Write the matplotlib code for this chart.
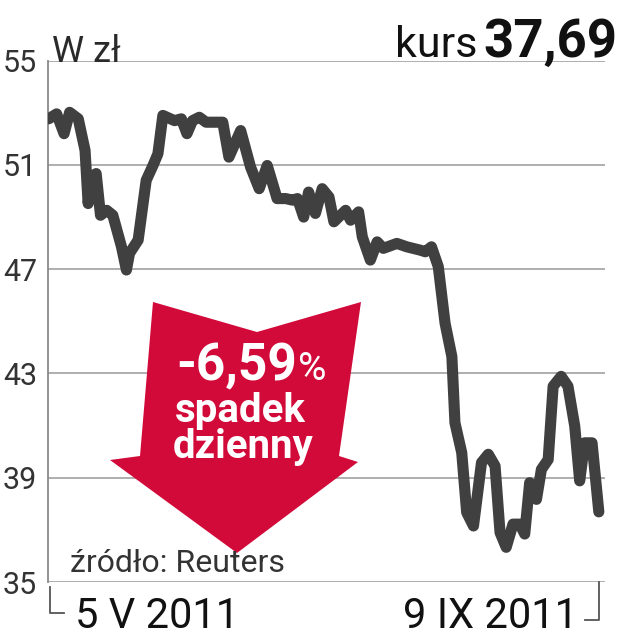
import matplotlib
matplotlib.use("Agg")
import matplotlib.pyplot as plt
from matplotlib.patches import Polygon
from matplotlib.lines import Line2D
from matplotlib import font_manager

# ---------------- data ----------------
days = [0, 1.3, 2.5, 3.4, 4.8, 5.9, 6.4, 6.9, 7.7, 8.4, 9.4, 10.4, 11.8, 12.6, 13.1,
        14.5, 15.8, 16.9, 17.7, 18.5, 20.4, 21.5, 22.4, 23.3, 24.4, 25.5, 28.2, 29.2,
        31.1, 32.7, 34.1, 35.4, 37.0, 38.4, 39.5, 40.3, 41.3, 42.1, 43.2, 44.3, 45.4,
        46.2, 48.1, 48.9, 50.2, 50.8, 52.1, 53.2, 54.2, 56.4, 58.0, 60.2, 61.0, 62.0,
        63.1, 64.2, 65.3, 65.8, 66.9, 67.7, 68.8, 70.1, 71.2, 72.3, 73.1, 74.1, 75.2,
        76.3, 77.1, 77.9, 79.0, 79.8, 80.9, 81.7, 83.0, 84.1, 85.2, 86.0, 86.8, 88.0, 89.1]
prices = [52.77, 52.96, 52.2, 53.02, 52.77, 51.56, 49.52, 50.54, 50.67, 49.07, 49.26, 49.07,
          47.86, 46.97, 47.61, 48.12, 50.41, 50.98, 51.43, 52.9, 52.7, 52.77, 52.2, 52.7,
          52.83, 52.64, 52.64, 51.3, 52.32, 50.92, 50.09, 50.98, 49.71, 49.71, 49.65, 49.71,
          49.0, 49.96, 49.14, 50.09, 49.77, 48.82, 49.26, 48.88, 49.2, 48.24, 47.35, 48.05,
          47.8, 47.99, 47.86, 47.73, 47.67, 47.86, 47.1, 44.93, 43.65, 41.11, 39.96, 37.67,
          37.15, 39.58, 39.9, 39.45, 36.9, 36.33, 37.22, 37.22, 36.84, 38.81, 38.17, 39.32,
          39.7, 42.51, 42.89, 42.51, 40.98, 38.88, 40.34, 40.34, 37.69]
yticks = [35, 39, 43, 47, 51, 55]
ytick_labels = ["35", "39", "43", "47", "51", "55"]
date_labels = ["5 V 2011", "9 IX 2011"]
unit_label = "W zł"
kurs_label = "kurs"
kurs_value = "37,69"
drop_value = "-6,59"
drop_lines = ["spadek", "dzienny"]
source_label = "źródło: Reuters"

# ---------------- fonts ----------------
avail = {f.name for f in font_manager.fontManager.ttflist}
FONT = ["Roboto", "DejaVu Sans"] if "Roboto" in avail else ["DejaVu Sans"]
plt.rcParams["font.family"] = FONT

W, H = 623, 640
fig = plt.figure(figsize=(W / 100, H / 100), dpi=100)
fig.patch.set_facecolor("white")

AX_L, AX_R, AX_T, AX_B = 48, 605, 60.7, 582
ax = fig.add_axes([AX_L / W, 1 - AX_B / H, (AX_R - AX_L) / W, (AX_B - AX_T) / H])


def F(px, py):
    return (px / W, 1 - py / H)


def A(px, py):
    return ((px - AX_L) / (AX_R - AX_L), (AX_B - py) / (AX_B - AX_T))


ax.set_xlim(-0.1, 90.1)
ax.set_ylim(35, 55)
for s in ["top", "right", "bottom"]:
    ax.spines[s].set_visible(False)
ax.spines["left"].set_color("#8a8a8a")
ax.spines["left"].set_linewidth(1.3)
ax.set_xticks([])
ax.set_yticks(yticks)
ax.set_yticklabels(ytick_labels, fontsize=22, color="#333333")
ax.tick_params(axis="y", length=0, pad=8)

for v in yticks:
    ax.axhline(v, color="#a8a8a8", lw=1.3, zorder=1)

ax.plot(days, prices, color="#404040", lw=8, solid_capstyle="round",
        solid_joinstyle="round", zorder=3)

# red arrow
arrow_px = [(153, 302), (257, 332), (361, 302), (339, 456), (358, 462),
            (237, 553), (110, 460), (140, 456)]
ax.add_patch(Polygon([A(*p) for p in arrow_px], closed=True, transform=ax.transAxes,
                     facecolor="#d20a3a", edgecolor="none", zorder=4))

# arrow texts
fig.text(*F(297, 380), drop_value, fontsize=37, fontweight="bold", color="white",
         ha="right", va="baseline", zorder=10)
fig.text(*F(298, 380), "%", fontsize=28, color="white", ha="left", va="baseline", zorder=10)
fig.text(*F(240, 422), drop_lines[0], fontsize=29, fontweight="bold", color="white",
         ha="center", va="baseline", zorder=10)
fig.text(*F(243, 458), drop_lines[1], fontsize=29, fontweight="bold", color="white",
         ha="center", va="baseline", zorder=10)

# top texts
fig.text(*F(52, 62), unit_label, fontsize=26, color="#2a2a2a", ha="left", va="baseline")
fig.text(*F(617, 57), kurs_value, fontsize=38, fontweight="bold", color="#111111",
         ha="right", va="baseline")
fig.text(*F(478, 57), kurs_label, fontsize=31, color="#111111", ha="right", va="baseline")

# source
fig.text(*F(70, 572), source_label, fontsize=23, color="#333333", ha="left", va="baseline")

# date labels and brackets
fig.text(*F(75, 628), date_labels[0], fontsize=30, color="#111111",
         ha="left", va="baseline")
fig.text(*F(578, 628), date_labels[1], fontsize=30, color="#111111",
         ha="right", va="baseline")
for xs, ys in [([50, 50, 64], [587, 613, 613]), ([585, 599, 599], [620, 620, 582])]:
    fig.add_artist(Line2D([x / W for x in xs], [1 - y / H for y in ys],
                          color="#555555", lw=1.3, transform=fig.transFigure))

fig.savefig("out.png", dpi=100, facecolor="white")
